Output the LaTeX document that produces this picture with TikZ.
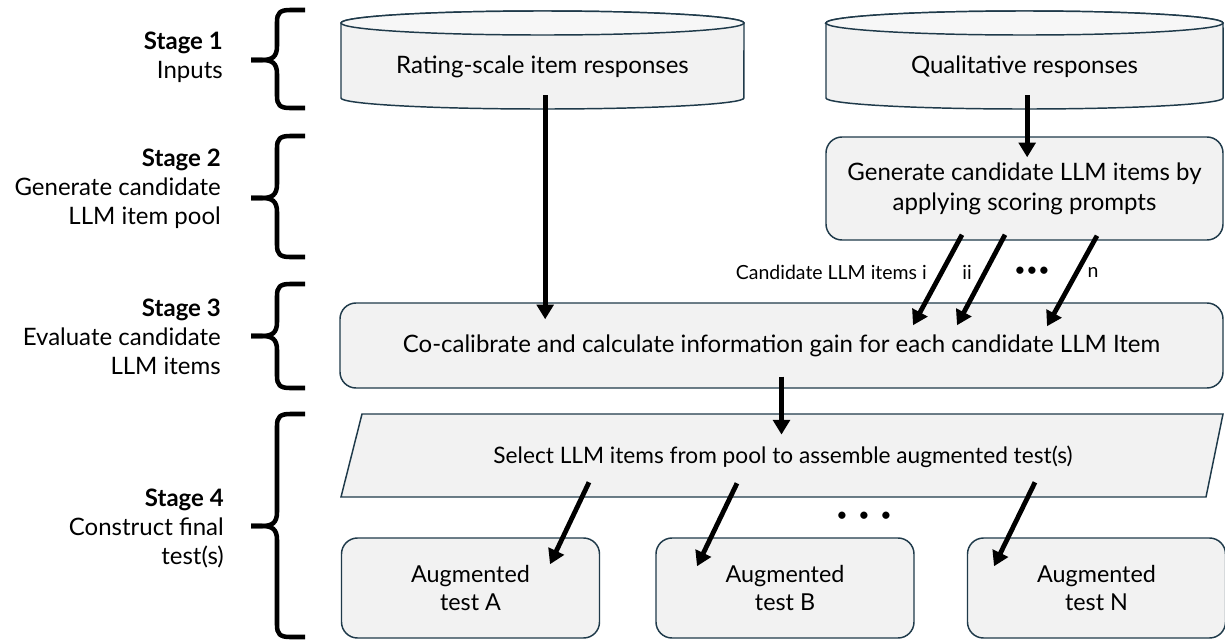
\documentclass[tikz,border=0pt]{standalone}
\usepackage{fontspec}
\setmainfont{Lato}
\usetikzlibrary{positioning,arrows.meta}
\definecolor{boxfill}{HTML}{F2F2F2}
\definecolor{boxtop}{HTML}{F7F7F7}
\definecolor{boxline}{HTML}{1F3A4A}

% curly brace of one stage: top, tip, bottom (in px)
\newcommand\stagebrace[3]{%
	\draw[bracepath] (305,#1) -- (290,#1) .. controls (280,#1) and (277,{#1+3}) .. (277,{#1+12})
	-- (277,{#2-14}) .. controls (277,{#2-3}) and (272,#2) .. (262,#2) -- (251,#2);
	\draw[bracepath] (305,#3) -- (290,#3) .. controls (280,#3) and (277,{#3-3}) .. (277,{#3-12})
	-- (277,{#2+14}) .. controls (277,{#2+3}) and (272,#2) .. (262,#2) -- (251,#2);
}

\begin{document}
\begin{tikzpicture}[x=0.75pt, y=-0.75pt,
	>={Triangle[length=11pt,width=12.5pt]},
	flow/.style={->, line width=3.6pt},
	bracepath/.style={line width=3.4pt, line cap=butt},
	cylpath/.style={draw=boxline, fill=boxfill, line width=1.1pt},
	box/.style={draw=boxline, fill=boxfill, line width=1.1pt, rounded corners=12pt, inner sep=0pt, align=center},
	stagelabel/.style={anchor=east, align=right, inner sep=0pt, font=\fontsize{18}{21.75}\selectfont},
	bigtext/.style={font=\fontsize{18}{22.5}\selectfont, align=center, inner sep=0pt},
	smalltext/.style={font=\fontsize{14.6}{16}\selectfont, inner sep=0pt}
	]
	
	\fill[white] (0,0) rectangle (1225,640);
	\useasboundingbox (0,0) rectangle (1225,640);
	
	% Stufen links
	\node[stagelabel] (stage1) at (223,57) {\textbf{Stage 1}\\Inputs};
	\node[stagelabel] (stage2) at (221,189) {\textbf{Stage 2}\\Generate candidate\\LLM item pool};
	\node[stagelabel] (stage3) at (221,337) {\textbf{Stage 3}\\Evaluate candidate\\LLM items};
	\node[stagelabel] (stage4) at (224,528) {\textbf{Stage 4}\\Construct final\\test(s)};
	
	\stagebrace{10}{60}{108}
	\stagebrace{136}{198}{257}
	\stagebrace{284}{336}{388}
	\stagebrace{414}{526}{637}
	
	% Zylinder (Eingaben)
	\path[cylpath] (341,23) -- (341,98) arc[start angle=180, end angle=360, x radius=151.1pt, y radius=8.25pt]
		-- (744,23) arc[start angle=0, end angle=180, x radius=151.1pt, y radius=9pt] -- cycle;
	\draw[cylpath, fill=boxtop] (542.5,23) ellipse[x radius=151.1pt, y radius=9pt];
	\path[cylpath] (826,23) -- (826,98) arc[start angle=180, end angle=360, x radius=148.9pt, y radius=8.25pt]
		-- (1223,23) arc[start angle=0, end angle=180, x radius=148.9pt, y radius=9pt] -- cycle;
	\draw[cylpath, fill=boxtop] (1024.5,23) ellipse[x radius=148.9pt, y radius=9pt];
	
	\node[bigtext, minimum height=42pt] (rating) at (542.5,67) {Rating-scale item responses};
	\node[bigtext, minimum height=42pt] (qual) at (1024.5,67) {Qualitative responses};
	
	% Kaesten
	\node[box, minimum width=297.75pt, minimum height=77.25pt, font=\fontsize{18}{22.5}\selectfont] (genbox) at (1024.5,188.5)
		{Generate candidate LLM items by\\applying scoring prompts};
	\node[box, minimum width=662.25pt, minimum height=63.75pt, font=\fontsize{18}{22.5}\selectfont] (cocal) at (781.5,345.5)
		{Co-calibrate and calculate information gain for each candidate LLM Item};
	
	\path[cylpath] (341,497) -- (362,414) -- (1223,414) -- (1206,497) -- cycle;
	\node[bigtext, minimum height=62.25pt, font=\fontsize{17}{20}\selectfont] (select) at (783,457)
		{Select LLM items from pool to assemble augmented test(s)};
	
	\foreach \name/\lbl/\xc in {testa/A/470.5, testb/B/785, testn/N/1096.5}{
		\node[box, minimum width=193.5pt, minimum height=75pt, font=\fontsize{17.5}{21}\selectfont] (\name) at (\xc,588)
			{Augmented\\test \lbl};
	}
	
	% Beschriftungen
	\node[smalltext, anchor=east] (candi) at (927,272) {Candidate LLM items i};
	\node[smalltext] (candii) at (967,272) {ii};
	\node[smalltext] (canddots) at (1032,272) {\textbullet\hspace{0.5pt}\textbullet\hspace{0.5pt}\textbullet};
	\node[smalltext] (candn) at (1093,272) {n};
	\node[smalltext] (testdots) at (864,517) {\textbullet\hspace{8pt}\textbullet\hspace{8pt}\textbullet};
	
	% Pfeile
	\draw[flow] ([xshift=2pt]rating.south) -- ([xshift=2pt, yshift=-12.75pt]rating.south |- cocal.north);
	\draw[flow] ([xshift=2pt]qual.south) -- ([xshift=2pt, yshift=-15.75pt]qual.south |- genbox.north);
	\draw[flow] ([shift={(-62.5,-6)}]genbox.south) -- ([shift={(131.5,23)}]cocal.north);
	\draw[flow] ([shift={(-19.5,-6)}]genbox.south) -- ([shift={(175.5,23)}]cocal.north);
	\draw[flow] ([shift={(72.5,-5)}]genbox.south) -- ([shift={(265.5,24)}]cocal.north);
	\draw[flow] ([yshift=9pt]cocal.south) -- ([yshift=-14.5pt]cocal.south |- select.north);
	\draw[flow] ([shift={(-194,-16.5)}]select.south) -- ([shift={(79.5,27)}]testa.north);
	\draw[flow] ([shift={(-46,-15.5)}]select.south) -- ([shift={(-88,29)}]testb.north);
	\draw[flow] ([shift={(252,-16.5)}]select.south) -- ([shift={(-102.5,29)}]testn.north);
\end{tikzpicture}
\end{document}
